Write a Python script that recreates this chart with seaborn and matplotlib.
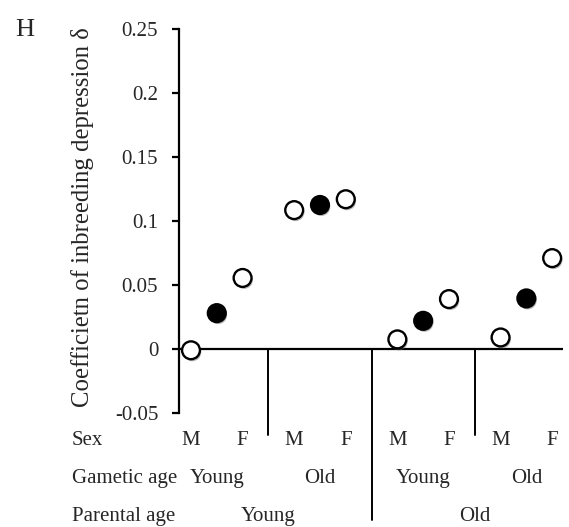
import matplotlib
matplotlib.use("Agg")
import matplotlib.pyplot as plt
import matplotlib.patheffects as pe
from matplotlib.transforms import blended_transform_factory
import seaborn as sns
import pandas as pd

# ---- data ----
parental_age = ["Young"] * 6 + ["Old"] * 6
gametic_age = ["Young"] * 3 + ["Old"] * 3 + ["Young"] * 3 + ["Old"] * 3
sex = ["M", "Both", "F"] * 4
delta = [-0.001, 0.028, 0.0555, 0.1085, 0.1125, 0.117,
         0.0075, 0.022, 0.039, 0.009, 0.0395, 0.071]
marker_fill = ["open", "filled", "open"] * 4
yticks = [-0.05, 0, 0.05, 0.1, 0.15, 0.2, 0.25]
ytick_labels = ["-0.05", "0", "0.05", "0.1", "0.15", "0.2", "0.25"]
ylabel = "Coefficietn of inbreeding depression δ"
panel = "H"

df = pd.DataFrame({"parental": parental_age, "gametic": gametic_age,
                   "sex": sex, "delta": delta, "fill": marker_fill})
# x positions: 3 points per group, a gap of one slot between groups
df["group"] = (df.index // 3)
df["pos"] = df["group"] * 4 + (df.index % 3)

sns.set_style("white")
plt.rcParams["font.family"] = ["Liberation Serif", "DejaVu Serif"]

fig = plt.figure(figsize=(5.69, 5.27), dpi=100)
ax = fig.add_axes([179 / 569, 1 - 413 / 527, 384 / 569, 384 / 527])

sns.scatterplot(data=df, x="pos", y="delta", hue="fill",
                palette={"open": "white", "filled": "black"},
                edgecolor="black", linewidth=1.7, s=165, legend=False,
                ax=ax, zorder=5, clip_on=False)
for coll in ax.collections:
    coll.set_path_effects([pe.SimplePatchShadow(offset=(1.0, -1.5),
                                                shadow_rgbFace="0.4", alpha=0.45),
                           pe.Normal()])

ax.set_xlim(-0.465, 14.42)
ax.set_ylim(-0.05, 0.25)
ax.axhline(0, color="black", lw=1.6, zorder=3)

for s in ["top", "right", "bottom"]:
    ax.spines[s].set_visible(False)
ax.spines["left"].set_color("black")
ax.spines["left"].set_linewidth(1.6)
ax.set_xticks([])
ax.set_yticks(yticks)
ax.set_yticklabels(ytick_labels)
fs = 15
ax.tick_params(axis="y", direction="out", length=5, width=1.6,
               labelsize=fs, pad=10, color="black", left=True)
ax.set_xlabel("")
ax.set_ylabel(ylabel, fontsize=17.8)
ax.yaxis.set_label_coords(-0.222, 0.51)

row_y = {"Sex": 1 - 445 / 527, "Gametic age": 1 - 483 / 527, "Parental age": 1 - 521 / 527}
trans = blended_transform_factory(ax.transData, fig.transFigure)
for name, yy in row_y.items():
    fig.text(72 / 569, yy, name, fontsize=fs, ha="left", va="baseline")

# sex labels
for _, r in df.iterrows():
    if r["sex"] in ("M", "F"):
        ax.text(r["pos"], row_y["Sex"], r["sex"], transform=trans,
                fontsize=fs, ha="center", va="baseline")
# gametic age labels (group centres)
for g, sub in df.groupby("group"):
    ax.text(sub["pos"].mean(), row_y["Gametic age"], sub["gametic"].iloc[0],
            transform=trans, fontsize=fs, ha="center", va="baseline")
# parental age labels
for p, sub in df.groupby("parental", sort=False):
    ax.text(sub["pos"].mean(), row_y["Parental age"], p,
            transform=trans, fontsize=fs, ha="center", va="baseline")

# separators between groups
group_pos = df.groupby("group")["pos"]
ends = group_pos.max().values
starts = group_pos.min().values
y0 = 1 - 349 / 527
for i in range(len(ends) - 1):
    xsep = (ends[i] + starts[i + 1]) / 2
    major = df["parental"].iloc[i * 3] != df["parental"].iloc[(i + 1) * 3]
    ybot = 1 - (520 / 527) if major else 1 - 435 / 527
    ax.plot([xsep, xsep], [y0, ybot], transform=trans, color="black",
            lw=1.4, clip_on=False)

fig.text(15 / 569, 1 - 36 / 527, panel, fontsize=19, ha="left", va="baseline")

fig.savefig("out.png", dpi=100)
